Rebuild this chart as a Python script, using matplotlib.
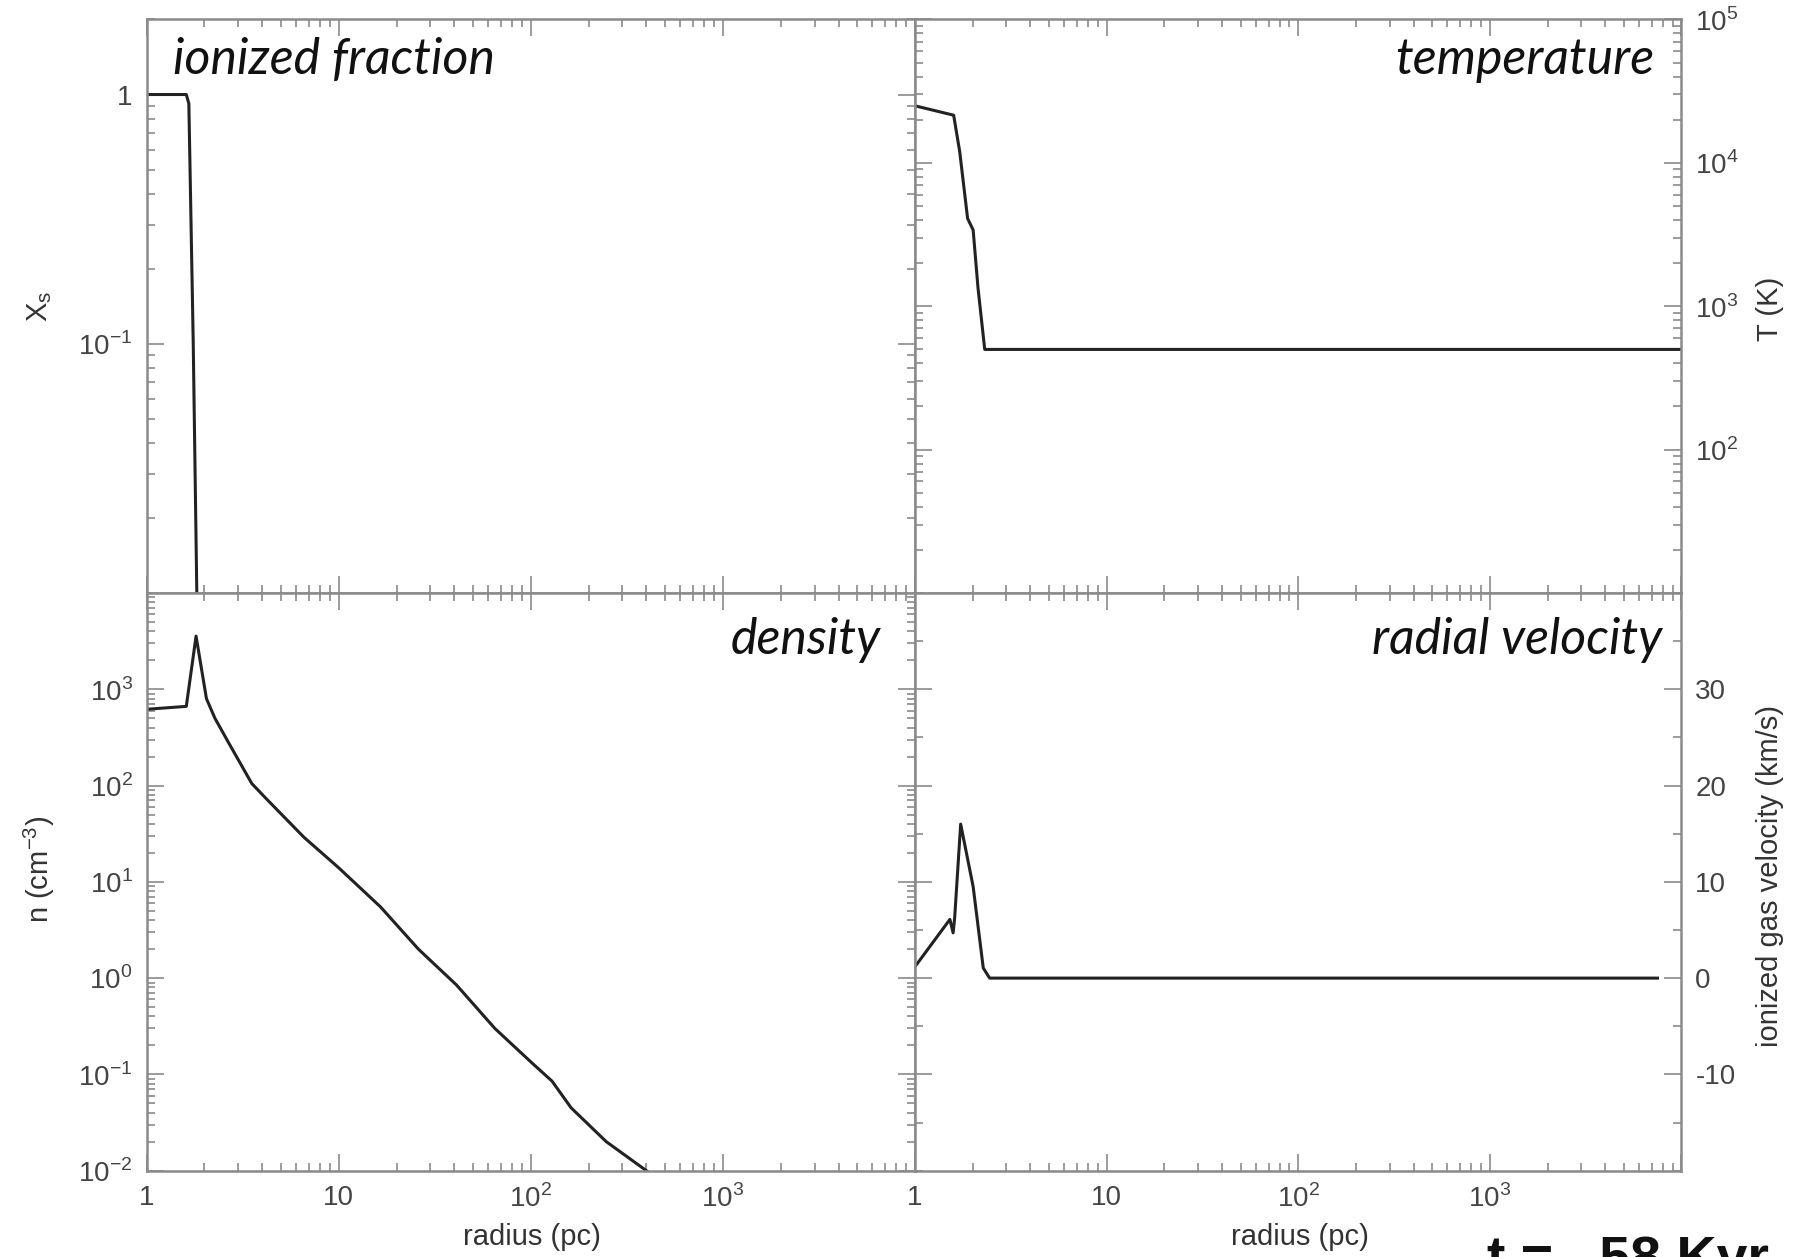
import matplotlib
matplotlib.use('Agg')
import matplotlib.pyplot as plt
from matplotlib.ticker import FixedLocator, FixedFormatter, LogLocator, MultipleLocator, NullFormatter

# datos
r_ion = [1, 1.61, 1.66, 1.75, 1.83]
x_ion = [1, 1, 0.92, 0.1, 0.009]

r_temp = [1, 1.59, 1.71, 1.88, 2.01, 2.13, 2.31, 1e4]
temp = [25000, 21500, 12000, 4100, 3400, 1350, 500, 500]

r_dens = [1, 1.61, 1.81, 2.05, 2.27, 2.67, 3.53, 4.2, 6.6, 10, 16.5, 26, 41, 65, 102, 129, 162, 247, 405]
dens = [620, 665, 3570, 800, 500, 280, 105, 73, 29, 14, 5.5, 2.0, 0.85, 0.30, 0.13, 0.085, 0.045, 0.02, 0.0098]

r_vel = [1, 1.52, 1.58, 1.61, 1.73, 2.01, 2.27, 2.45, 7500]
vel = [1.2, 6.1, 4.7, 6.3, 16.0, 9.5, 1.05, 0, 0]

x_ticks = [1, 10, 100, 1000]
x_labels = ['1', '10', r'$10^2$', r'$10^3$']

ion_ticks = [1, 0.1]
ion_labels = ['1', r'$10^{-1}$']
temp_ticks = [1e2, 1e3, 1e4, 1e5]
temp_labels = [r'$10^2$', r'$10^3$', r'$10^4$', r'$10^5$']
dens_ticks = [1e-2, 1e-1, 1, 10, 100, 1000]
dens_labels = [r'$10^{-2}$', r'$10^{-1}$', r'$10^0$', r'$10^1$', r'$10^2$', r'$10^3$']
vel_ticks = [-10, 0, 10, 20, 30]
vel_labels = ['-10', '0', '10', '20', '30']

titulos = ['ionized fraction', 'temperature', 'density', 'radial velocity']

GRIS = '#8a8a8a'
TXT = '#444444'
fuente = ['Liberation Sans Narrow', 'Liberation Sans', 'DejaVu Sans']
plt.rcParams['mathtext.fontset'] = 'custom'
plt.rcParams['mathtext.rm'] = 'Liberation Sans'

fig = plt.figure(figsize=(17.96, 12.57), dpi=100)

x0, xm, x1 = 0.0816, 0.5095, 0.9362
y0, ym, y1 = 0.0687, 0.5282, 0.9845

ax_ion = fig.add_axes([x0, ym, xm - x0, y1 - ym])
ax_temp = fig.add_axes([xm, ym, x1 - xm, y1 - ym])
ax_dens = fig.add_axes([x0, y0, xm - x0, ym - y0])
ax_vel = fig.add_axes([xm, y0, x1 - xm, ym - y0])


def estilo(ax, bottom_labels):
    ax.set_xscale('log')
    ax.set_xlim(1, 1e4)
    ax.xaxis.set_major_locator(FixedLocator(x_ticks + [1e4]))
    if bottom_labels:
        ax.xaxis.set_major_formatter(FixedFormatter(x_labels + ['']))
    else:
        ax.xaxis.set_major_formatter(NullFormatter())
    ax.xaxis.set_minor_locator(LogLocator(base=10, subs=range(2, 10), numticks=20))
    ax.xaxis.set_minor_formatter(NullFormatter())
    ax.tick_params(which='both', direction='in', top=True, right=True, bottom=True, left=True,
                   color=GRIS, labelcolor=TXT, labelsize=20, width=1.2)
    ax.tick_params(which='major', length=12, pad=10)
    ax.tick_params(which='minor', length=6)
    for s in ax.spines.values():
        s.set_color(GRIS)
        s.set_linewidth(1.8)
    for lab in ax.get_xticklabels() + ax.get_yticklabels():
        lab.set_family(fuente)


# fraccion ionizada
ax_ion.plot(r_ion, x_ion, color='#222222', lw=2.2)
ax_ion.set_yscale('log')
ax_ion.set_ylim(0.01, 2)
ax_ion.yaxis.set_major_locator(FixedLocator(ion_ticks))
ax_ion.yaxis.set_major_formatter(FixedFormatter(ion_labels))
ax_ion.yaxis.set_minor_locator(LogLocator(base=10, subs=range(2, 10), numticks=20))
ax_ion.yaxis.set_minor_formatter(NullFormatter())
estilo(ax_ion, False)

# temperatura
ax_temp.plot(r_temp, temp, color='#222222', lw=2.2)
ax_temp.set_yscale('log')
ax_temp.set_ylim(10, 1e5)
ax_temp.yaxis.set_major_locator(FixedLocator(temp_ticks))
ax_temp.yaxis.set_major_formatter(FixedFormatter(temp_labels))
ax_temp.yaxis.set_minor_locator(LogLocator(base=10, subs=range(2, 10), numticks=20))
ax_temp.yaxis.set_minor_formatter(NullFormatter())
ax_temp.yaxis.tick_right()
estilo(ax_temp, False)
ax_temp.tick_params(axis='y', which='both', labelleft=False, labelright=True)

# densidad
ax_dens.plot(r_dens, dens, color='#222222', lw=2.2)
ax_dens.set_yscale('log')
ax_dens.set_ylim(1e-2, 1e4)
ax_dens.yaxis.set_major_locator(FixedLocator(dens_ticks))
ax_dens.yaxis.set_major_formatter(FixedFormatter(dens_labels))
ax_dens.yaxis.set_minor_locator(LogLocator(base=10, subs=range(2, 10), numticks=20))
ax_dens.yaxis.set_minor_formatter(NullFormatter())
estilo(ax_dens, True)

# velocidad radial
ax_vel.plot(r_vel, vel, color='#222222', lw=2.2)
ax_vel.set_ylim(-20, 40)
ax_vel.yaxis.set_major_locator(FixedLocator(vel_ticks))
ax_vel.yaxis.set_major_formatter(FixedFormatter(vel_labels))
ax_vel.yaxis.set_minor_locator(MultipleLocator(5))
ax_vel.yaxis.tick_right()
estilo(ax_vel, True)
ax_vel.tick_params(axis='y', which='both', labelleft=False, labelright=True)

# titulos de cada panel
kw_tit = dict(fontsize=36, style='italic', family=['Lato', 'DejaVu Sans'], color='#111111',
              va='baseline')
ax_ion.text(0.035, 0.905, titulos[0], transform=ax_ion.transAxes, ha='left', **kw_tit)
ax_temp.text(0.965, 0.905, titulos[1], transform=ax_temp.transAxes, ha='right', **kw_tit)
ax_dens.text(0.955, 0.895, titulos[2], transform=ax_dens.transAxes, ha='right', **kw_tit)
ax_vel.text(0.975, 0.895, titulos[3], transform=ax_vel.transAxes, ha='right', **kw_tit)

# etiquetas de los ejes
kw_lab = dict(fontsize=21, color='#333333', family=fuente, ha='center', va='center')
fig.text(0.022, 0.756, r'X$_\mathrm{s}$', rotation=90, **kw_lab)
fig.text(0.022, 0.308, r'n (cm$^{-3}$)', rotation=90, **kw_lab)
fig.text(0.9855, 0.754, 'T (K)', rotation=90, **kw_lab)
fig.text(0.9855, 0.303, 'ionized gas velocity (km/s)', rotation=90, **kw_lab)
fig.text(0.296, 0.016, 'radius (pc)', **kw_lab)
fig.text(0.7238, 0.016, 'radius (pc)', **kw_lab)

# el texto del tiempo sale cortado por abajo, igual que en el original
fig.text(0.828, -0.014, 't =   58 Kyr', fontsize=40, fontweight='bold', color='#111111',
         family=['Liberation Sans', 'DejaVu Sans'], ha='left', va='baseline')

fig.savefig('out.png', dpi=100, facecolor='white')
